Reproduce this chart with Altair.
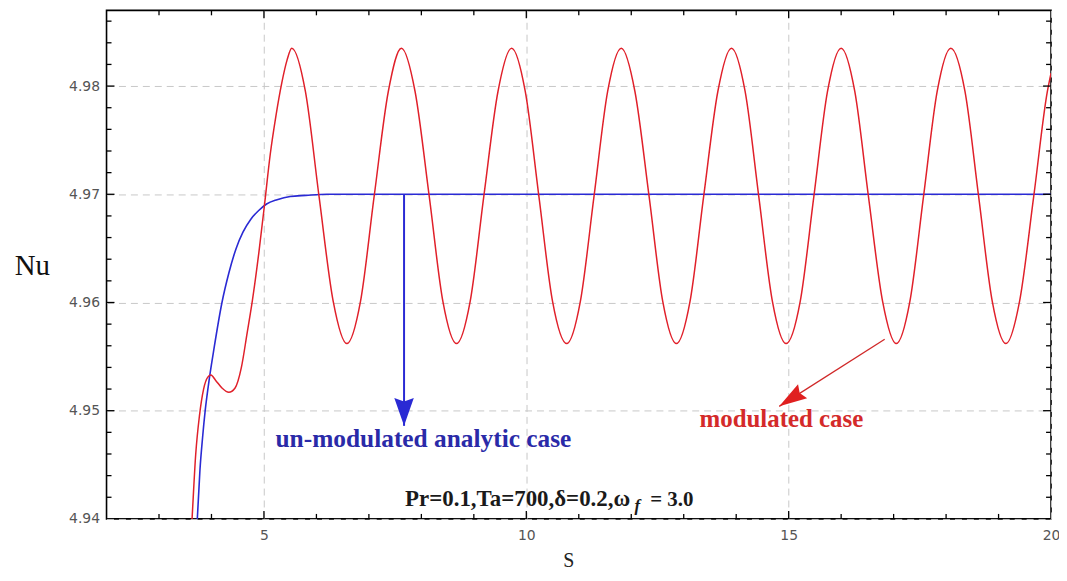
import altair as alt
import pandas as pd

# ---------------- data ----------------
# modulated case (red)
red_s = [3.55, 3.63, 3.70, 3.77, 3.85, 3.93, 3.99, 4.08, 4.20, 4.33, 4.45, 4.57, 4.68, 4.78,
         4.90, 5.01, 5.12, 5.23, 5.34, 5.44, 5.53,
         5.79, 6.05, 6.32, 6.58, 6.84, 7.10, 7.37, 7.62,
         7.88, 8.15, 8.41, 8.67, 8.93, 9.19, 9.46, 9.72,
         9.98, 10.24, 10.50, 10.77, 11.03, 11.29, 11.55, 11.81,
         12.07, 12.34, 12.60, 12.86, 13.12, 13.38, 13.65, 13.91,
         14.17, 14.43, 14.69, 14.95, 15.22, 15.48, 15.74, 16.00,
         16.26, 16.52, 16.79, 17.05, 17.31, 17.57, 17.83, 18.09,
         18.36, 18.62, 18.88, 19.14, 19.40, 19.67, 19.93, 20.00]
red_nu = [4.9330, 4.9400, 4.9460, 4.9495, 4.9520, 4.9531, 4.9533, 4.9528, 4.9521, 4.9517,
          4.9521, 4.9540, 4.9572, 4.9602, 4.9645, 4.9690, 4.9737, 4.9773, 4.9803, 4.9824, 4.9835,
          4.9795, 4.9698, 4.9601, 4.9562, 4.9601, 4.9698, 4.9795, 4.9835,
          4.9795, 4.9698, 4.9601, 4.9562, 4.9601, 4.9698, 4.9795, 4.9835,
          4.9795, 4.9698, 4.9601, 4.9562, 4.9601, 4.9698, 4.9795, 4.9835,
          4.9795, 4.9698, 4.9601, 4.9562, 4.9601, 4.9698, 4.9795, 4.9835,
          4.9795, 4.9698, 4.9601, 4.9562, 4.9601, 4.9698, 4.9795, 4.9835,
          4.9795, 4.9698, 4.9601, 4.9562, 4.9601, 4.9698, 4.9795, 4.9835,
          4.9795, 4.9698, 4.9601, 4.9562, 4.9601, 4.9698, 4.9795, 4.9812]

# un-modulated analytic case (blue)
blue_s = [3.68, 3.73, 3.78, 3.83, 3.88, 3.96, 4.05, 4.20, 4.33, 4.47, 4.60, 4.75, 4.90,
          5.05, 5.25, 5.50, 5.80, 6.20, 10.00, 15.00, 20.00]
blue_nu = [4.9345, 4.9400, 4.9445, 4.9475, 4.9500, 4.9530, 4.9558, 4.9600, 4.9627, 4.9650,
           4.9665, 4.9677, 4.9685, 4.9691, 4.9695, 4.9698, 4.9699, 4.9700, 4.9700, 4.9700, 4.9700]

# axis ticks / labels
x_labels = [5, 10, 15, 20]
y_labels = [4.94, 4.95, 4.96, 4.97, 4.98]
x_ticks_minor = [3, 4, 6, 7, 8, 9, 11, 12, 13, 14, 16, 17, 18, 19]
x_ticks_major = [5, 10, 15]
y_ticks_minor = [4.942, 4.944, 4.946, 4.948, 4.952, 4.954, 4.956, 4.958, 4.962, 4.964,
                 4.966, 4.968, 4.972, 4.974, 4.976, 4.978, 4.982, 4.984, 4.986]
y_ticks_major = [4.95, 4.96, 4.97, 4.98]

S_MIN, S_MAX = 2.0, 20.0
NU_MIN, NU_MAX = 4.94, 4.987

# annotations
blue_arrow_s = [7.67]
blue_arrow_nu = [4.9700]
blue_arrow_tip_nu = [4.9486]
red_arrow_s = [16.83]
red_arrow_nu = [4.9566]
red_arrow_tip_s = [14.82]
red_arrow_tip_nu = [4.9504]

text_blue = "un-modulated analytic case"
text_blue_s, text_blue_nu = 5.22, 4.9466
text_red = "modulated case"
text_red_s, text_red_nu = 13.30, 4.9485
text_par1 = "Pr=0.1,Ta=700,δ=0.2,ω"
text_par1_s, text_par1_nu = 7.69, 4.9412
text_par2 = "f"
text_par2_s, text_par2_nu = 12.06, 4.9407
text_par3 = "= 3.0"
text_par3_s, text_par3_nu = 12.36, 4.9412

# ---------------- chart ----------------
xs = alt.Scale(domain=[S_MIN, S_MAX], nice=False, zero=False)
ys = alt.Scale(domain=[NU_MIN, NU_MAX], nice=False, zero=False)

x_axis = alt.Axis(values=x_labels, labelFont="DejaVu Sans", labelFontSize=14, labelColor="#555555",
                  labelPadding=10, labelFlush=False, ticks=False, domain=False,
                  grid=True, gridDash=[7, 5], gridColor="#c8c8c8", gridWidth=1,
                  title="S", titleFont="Liberation Serif", titleFontSize=20, titleFontWeight="normal",
                  titleColor="#222222", titleY=42, titleX=464, titleBaseline="middle")
y_axis = alt.Axis(values=y_labels, format=".2f", labelFont="DejaVu Sans", labelFontSize=14,
                  labelColor="#555555", labelPadding=7, labelFlush=False, ticks=False, domain=False,
                  grid=True, gridDash=[7, 5], gridColor="#c8c8c8", gridWidth=1,
                  title="Nu", titleAngle=0, titleFont="Liberation Serif", titleFontSize=29,
                  titleFontWeight="normal", titleColor="#111111", titleX=-75, titleY=256,
                  titleAlign="center", titleBaseline="middle")

red_df = pd.DataFrame({"s": red_s, "nu": red_nu})
blue_df = pd.DataFrame({"s": blue_s, "nu": blue_nu})

X = alt.X("s:Q", scale=xs, axis=x_axis)
Y = alt.Y("nu:Q", scale=ys, axis=y_axis)

blue_line = alt.Chart(blue_df).mark_line(color="#2a2ad4", strokeWidth=1.6, clip=True,
                                         interpolate="monotone").encode(x=X, y=Y)
red_line = alt.Chart(red_df).mark_line(color="#e0202a", strokeWidth=1.5, clip=True,
                                       interpolate="monotone").encode(x=X, y=Y)

# frame ticks (inward)
def hticks(vals, y_val, off):
    df = pd.DataFrame({"s": vals})
    return alt.Chart(df).mark_rule(color="black", strokeWidth=1.3, y2Offset=off).encode(
        x=alt.X("s:Q", scale=xs), y=alt.datum(y_val), y2=alt.datum(y_val))

def vticks(vals, x_val, off):
    df = pd.DataFrame({"nu": vals})
    return alt.Chart(df).mark_rule(color="black", strokeWidth=1.3, x2Offset=off).encode(
        y=alt.Y("nu:Q", scale=ys), x=alt.datum(x_val), x2=alt.datum(x_val))

ticks = [
    hticks(x_ticks_minor, NU_MIN, -5), hticks(x_ticks_major, NU_MIN, -8),
    hticks(x_ticks_minor, NU_MAX, 5), hticks(x_ticks_major, NU_MAX, 8),
    vticks(y_ticks_minor, S_MIN, 5), vticks(y_ticks_major, S_MIN, 8),
    vticks(y_ticks_minor, S_MAX, -5), vticks(y_ticks_major, S_MAX, -8),
]

# arrows
ba_df = pd.DataFrame({"s": blue_arrow_s, "nu": blue_arrow_nu, "nu2": blue_arrow_tip_nu})
blue_arrow_line = alt.Chart(ba_df).mark_rule(color="#2a2ad4", strokeWidth=2).encode(
    x=alt.X("s:Q", scale=xs), y=alt.Y("nu:Q", scale=ys), y2="nu2:Q")
head_shape = "M0,0 L-0.7,-2 L0,-1.75 L0.7,-2 Z"
blue_arrow_head = alt.Chart(ba_df).mark_point(shape=head_shape, size=784, filled=True,
                                              color="#2a2ad4", opacity=1, strokeWidth=0).encode(
    x=alt.X("s:Q", scale=xs), y=alt.Y("nu2:Q", scale=ys))

ra_df = pd.DataFrame({"s": red_arrow_s, "nu": red_arrow_nu,
                      "s2": red_arrow_tip_s, "nu2": red_arrow_tip_nu})
red_arrow_line = alt.Chart(ra_df).mark_rule(color="#d02828", strokeWidth=1.3).encode(
    x=alt.X("s:Q", scale=xs), y=alt.Y("nu:Q", scale=ys), x2="s2:Q", y2="nu2:Q")
red_arrow_head = alt.Chart(ra_df).mark_point(shape="M0,0 L-0.6,-2 L0,-1.75 L0.6,-2 Z", size=784,
                                             filled=True, color="#e02020", opacity=1,
                                             strokeWidth=0, angle=57).encode(
    x=alt.X("s2:Q", scale=xs), y=alt.Y("nu2:Q", scale=ys))

# texts
def label(txt, s, nu, color, size, weight="bold", style="normal"):
    df = pd.DataFrame({"s": [s], "nu": [nu], "t": [txt]})
    return alt.Chart(df).mark_text(align="left", baseline="alphabetic", font="Liberation Serif",
                                   fontSize=size, fontWeight=weight, fontStyle=style,
                                   color=color).encode(
        x=alt.X("s:Q", scale=xs), y=alt.Y("nu:Q", scale=ys), text="t:N")

texts = [
    label(text_blue, text_blue_s, text_blue_nu, "#2a2aa8", 25.5),
    label(text_red, text_red_s, text_red_nu, "#d42a2a", 25),
    label(text_par1, text_par1_s, text_par1_nu, "#1a1a1a", 23),
    label(text_par2, text_par2_s, text_par2_nu, "#1a1a1a", 17, "bold", "italic"),
    label(text_par3, text_par3_s, text_par3_nu, "#1a1a1a", 21),
]

chart = alt.layer(blue_line, red_line, *ticks, blue_arrow_line, blue_arrow_head,
                  red_arrow_line, red_arrow_head, *texts).properties(
    width=949, height=511,
    autosize=alt.AutoSizeParams(type="none"),
    padding={"left": 99, "top": 1, "right": 8, "bottom": 52},
    background="white",
).configure_view(stroke="black", strokeWidth=1.6)

chart.save("out.html", embed_options={"renderer": "svg", "actions": False})
